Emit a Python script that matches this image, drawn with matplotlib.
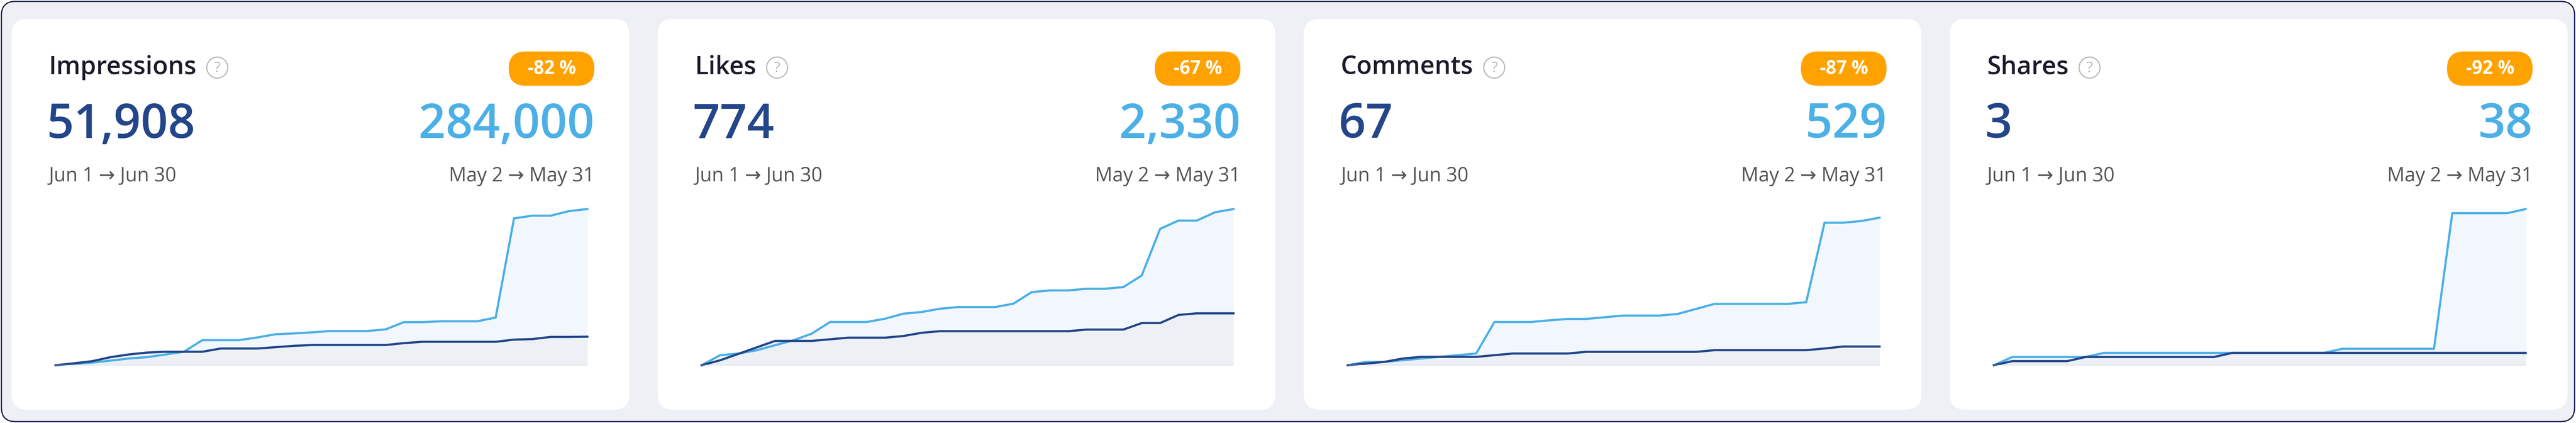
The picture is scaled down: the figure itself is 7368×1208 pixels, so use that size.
import matplotlib.pyplot as plt
from matplotlib.patches import FancyBboxPatch, Circle

W, H = 7368, 1208

titles = ["Impressions", "Likes", "Comments", "Shares"]
current_totals = ["51,908", "774", "67", "3"]
previous_totals = ["284,000", "2,330", "529", "38"]
badges = ["-82 %", "-67 %", "-87 %", "-92 %"]
current_range = "Jun 1 \u2192 Jun 30"
previous_range = "May 2 \u2192 May 31"

# daily cumulative values, 30 days each
impr_prev = [0, 2450, 4900, 8330, 12250, 14700, 19600, 24500, 45570, 45570,
             45570, 50470, 56350, 57820, 59780, 62230, 62230, 62230, 65170, 78400,
             78400, 79870, 79870, 79870, 86730, 267050, 271950, 271950, 280280, 284000]
impr_cur = [0, 3430, 7350, 14700, 19600, 23030, 24500, 24500, 24500, 30380,
            30380, 30380, 32830, 35280, 36750, 36750, 36750, 36750, 36750, 40180,
            42630, 42630, 42630, 42630, 42630, 46550, 47530, 51450, 51450, 51908]
likes_prev = [0, 149, 174, 223, 298, 372, 471, 645, 645, 645,
              694, 769, 794, 843, 868, 868, 868, 918, 1091, 1116,
              1116, 1141, 1141, 1166, 1339, 2034, 2158, 2158, 2282, 2330]
likes_cur = [0, 73, 169, 266, 363, 363, 363, 387, 411, 411,
             411, 436, 484, 508, 508, 508, 508, 508, 508, 508,
             508, 532, 532, 532, 629, 629, 750, 774, 774, 774]
comm_prev = [0, 12, 12, 18, 24, 30, 36, 42, 155, 155,
             155, 161, 166, 166, 172, 178, 178, 178, 184, 202,
             220, 220, 220, 220, 220, 226, 511, 511, 517, 529]
comm_cur = [0, 6, 12, 24, 30, 30, 30, 30, 36, 42,
            42, 42, 42, 48, 48, 48, 48, 48, 48, 48,
            54, 54, 54, 54, 54, 54, 60, 67, 67, 67]
shares_prev = [0, 2, 2, 2, 2, 2, 3, 3, 3, 3,
               3, 3, 3, 3, 3, 3, 3, 3, 3, 4,
               4, 4, 4, 4, 4, 37, 37, 37, 37, 38]
shares_cur = [0, 1, 1, 1, 1, 2, 2, 2, 2, 2,
              2, 2, 2, 3, 3, 3, 3, 3, 3, 3,
              3, 3, 3, 3, 3, 3, 3, 3, 3, 3]
prev_series = [impr_prev, likes_prev, comm_prev, shares_prev]
cur_series = [impr_cur, likes_cur, comm_cur, shares_cur]
# headroom above the highest point of each sparkline
y_top = [284000, 2330, 560, 38]

DARK = "#23468a"
LIGHT = "#4cb0e6"
ORANGE = "#ffa200"

plt.rcParams['font.family'] = ['Open Sans', 'DejaVu Sans']
fig = plt.figure(figsize=(W / 100, H / 100), dpi=100, facecolor="white")
bg = fig.add_axes([0, 0, 1, 1])
bg.set_xlim(0, W)
bg.set_ylim(H, 0)
bg.axis("off")

bg.add_patch(FancyBboxPatch((4, 4), W - 8, H - 8, boxstyle="round,pad=0,rounding_size=40",
                            fc="#eef0f5", ec="#1c2250", lw=2.5))

card_w, card_top, card_bot = 1767, 54, 1170
renderer = fig.canvas.get_renderer()

for i in range(4):
    x0 = 33 + i * 1848
    bg.add_patch(FancyBboxPatch((x0, card_top), card_w, card_bot - card_top,
                                boxstyle="round,pad=0,rounding_size=45", fc="white", ec="none"))
    t = bg.text(x0 + 106, 193, titles[i], fontsize=52, color="#1b1b2b",
                va="center", ha="left", fontweight="semibold")
    bb = t.get_window_extent(renderer)
    qx = bb.x1 + 60
    bg.add_patch(Circle((qx, 193), 30, fc="none", ec="#bcbcbc", lw=2.5))
    bg.text(qx, 195, "?", fontsize=30, color="#bcbcbc", ha="center", va="center")

    # badge
    bx1 = x0 + 1667
    bg.add_patch(FancyBboxPatch((bx1 - 245, 147), 245, 98,
                                boxstyle="round,pad=0,rounding_size=49", fc=ORANGE, ec="none"))
    bg.text(bx1 - 122, 197, badges[i], fontsize=38, color="white", fontweight="bold",
            ha="center", va="center")

    bg.text(x0 + 100, 358, current_totals[i], fontsize=98, color=DARK, ha="left",
            va="center", fontweight="semibold")
    bg.text(bx1, 358, previous_totals[i], fontsize=98, color=LIGHT, ha="right",
            va="center", fontweight="semibold")
    bg.text(x0 + 106, 504, current_range, fontsize=40, color="#555555", ha="left", va="center")
    bg.text(bx1, 504, previous_range, fontsize=40, color="#555555", ha="right", va="center")

    # sparkline
    cx0, cx1, cy_top, cy_bot = x0 + 126, x0 + 1647, 597, 1043
    ax = fig.add_axes([cx0 / W, 1 - cy_bot / H, (cx1 - cx0) / W, (cy_bot - cy_top) / H])
    ax.patch.set_alpha(0)
    days = list(range(len(prev_series[i])))
    ax.fill_between(days, prev_series[i], color="#f2f7fd", lw=0)
    ax.fill_between(days, cur_series[i], color="#edf1f6", lw=0)
    ax.plot(days, prev_series[i], color=LIGHT, lw=4.5, clip_on=False, solid_joinstyle="round")
    ax.plot(days, cur_series[i], color=DARK, lw=4.5, clip_on=False, solid_joinstyle="round")
    ax.axhline(0, color="#c8ccd4", lw=2)
    ax.set_xlim(0, len(days) - 1)
    ax.set_ylim(0, y_top[i])
    ax.axis("off")

fig.savefig("out.png", dpi=100, facecolor="white")
